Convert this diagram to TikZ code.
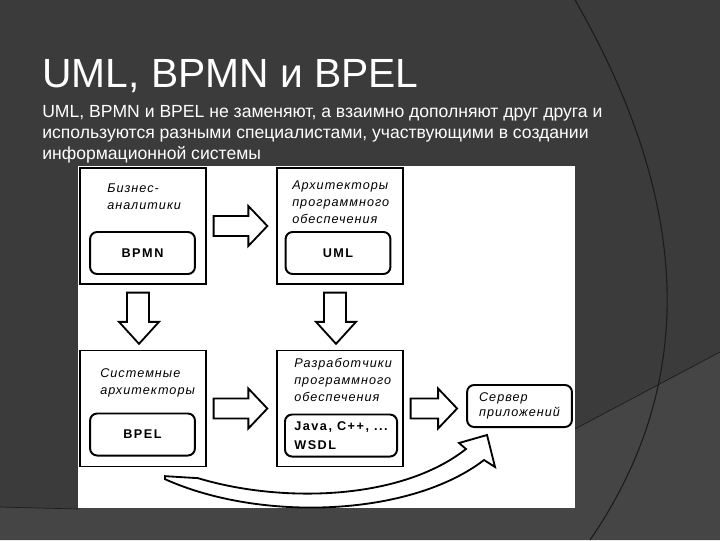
\documentclass[tikz,border=0pt]{standalone}
\usepackage{fontspec}
\setmainfont{Liberation Sans}
\usetikzlibrary{calc}
\definecolor{slidebg}{HTML}{3B3B3B}
\definecolor{slidebglight}{HTML}{454545}
\definecolor{slidearc}{HTML}{1C1C1C}
\begin{document}
\begin{tikzpicture}[x=0.025cm,y=-0.025cm,every node/.style={inner sep=0pt},
  rolebox/.style={draw,line width=0.9pt,minimum width=3.15cm,minimum height=2.9cm},
  langbox/.style={draw,line width=1.4pt,rounded corners=5pt,minimum width=2.62cm,minimum height=1.05cm,
    font=\fontsize{9}{13}\selectfont\bfseries\addfontfeatures{LetterSpace=12}},
  rolelabel/.style={anchor=north west,align=left,font=\fontsize{9}{12}\selectfont\itshape\addfontfeatures{LetterSpace=8}},
  blockarr/.style={draw,fill=white,line width=1.3pt,line join=miter}]
\useasboundingbox (0,0) rectangle (720,540);
% slide background
\fill[slidebg] (0,0) rectangle (720,540);
\fill[slidebglight] (0,507) -- (78,509) -- (573,430) -- (720,352) -- (720,540) -- (0,540) -- cycle;
\draw[slidearc,line width=0.5pt] (0,507) -- (78,509);
\draw[slidearc,line width=0.5pt] (573,430) -- (720,352);
\draw[slidearc,line width=0.8pt] (575,0) .. controls (690,200) and (700,380) .. (590,540);
\node[anchor=base west,text=white,font=\fontsize{29}{34}\selectfont] (title) at (42,87) {UML, BPMN и BPEL};
\node[anchor=north west,text=white,align=left,font=\fontsize{12.5}{14.9}\selectfont] (intro) at (42,105)
  {UML, BPMN и BPEL не заменяют, а взаимно дополняют друг друга и\\используются разными специалистами, участвующими в создании\\информационной системы};
% diagram
\fill[white] (78,166) rectangle (575,508);
\node[rolebox] (biz) at (143,226) {};
\node[rolebox] (arch) at (340,226) {};
\node[rolebox] (sys) at (143,408.5) {};
\node[rolebox] (dev) at (340,408.5) {};
\node[rolelabel] (bizl) at (107,184) {Бизнес-\\аналитики};
\node[rolelabel] (archl) at (292,181) {Архитекторы\\программного\\обеспечения};
\node[rolelabel] (sysl) at (100,368) {Системные\\архитекторы};
\node[rolelabel] (devl) at (294,358) {Разработчики\\программного\\обеспечения};
\node[langbox] (bpmn) at (142.5,253) {BPMN};
\node[langbox] (uml) at (338,253) {UML};
\node[langbox] (bpel) at (142.5,434.5) {BPEL};
\node[langbox,minimum width=2.8cm,align=left] (java) at (341,435.5) {Java, C++, ...\\WSDL};
\node[langbox,align=left,font=\fontsize{9}{11}\selectfont\itshape\addfontfeatures{LetterSpace=8}] (srv) at (519.5,406) {Сервер\\приложений};
% block arrows
\foreach \a/\b in {biz/arch,sys/dev,dev/srv} {
  \draw[blockarr] ($(\a.east)+(7,-10)$) -- ($(\b.west |- \a.east)+(-28,-10)$) -- ($(\b.west |- \a.east)+(-28,-20)$)
    -- ($(\b.west |- \a.east)+(-9,0)$) -- ($(\b.west |- \a.east)+(-28,20)$) -- ($(\b.west |- \a.east)+(-28,10)$)
    -- ($(\a.east)+(7,10)$) -- cycle;
}
\foreach \a/\b in {biz/sys,arch/dev} {
  \draw[blockarr] ($(\a.south)+(-16,8)$) -- ($(\a.south)+(6,8)$) -- ($(\b.north -| \a.south)+(6,-28)$)
    -- ($(\b.north -| \a.south)+(16,-28)$) -- ($(\b.north -| \a.south)+(-4,-6)$) -- ($(\b.north -| \a.south)+(-24,-28)$)
    -- ($(\b.north -| \a.south)+(-16,-28)$) -- cycle;
}
% curved arrow to the server
\draw[blockarr] ($(sys.south)+(22,9)$) -- ($(sys.south)+(55,11)$) .. controls (280,503) and (400,501) .. (466,449)
  -- (459,443) -- (487,435) -- (495,467) -- (484,460) .. controls (410,517) and (260,522) .. ($(sys.south)+(22,12)$) -- cycle;
\end{tikzpicture}
\end{document}
